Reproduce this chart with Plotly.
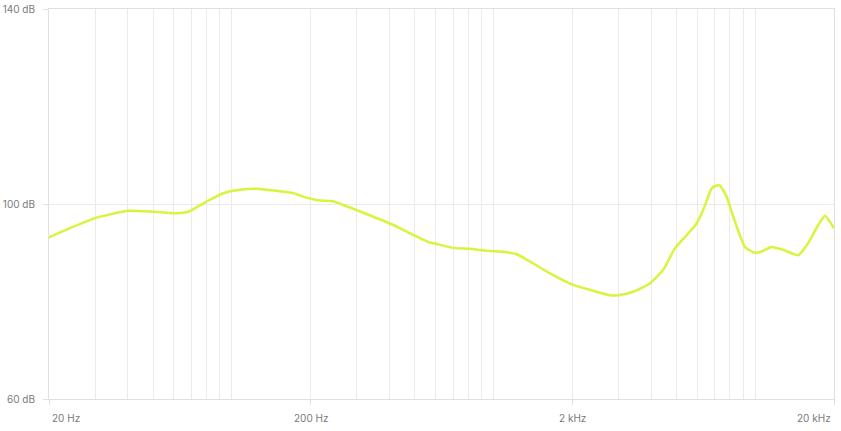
import plotly.graph_objects as go
import math

# Frequency response (Hz, dB)
freq_hz = [19.3, 24.7, 30.4, 40.2, 50.1, 61.5, 68.1, 80.1, 92.7, 107.4, 128, 148.3, 169.3,
           193, 217, 240.7, 266.5, 317.8, 401.8, 479, 571, 606, 701, 813, 941, 1122,
           1225, 1418, 1690, 2016, 2404, 2784, 2996, 3418, 3958, 4450, 4932, 5467,
           5970, 6328, 6814, 7118, 7328, 7772, 8362, 9130, 9822, 10420, 11550, 12790,
           14600, 15940, 17410, 18470, 19860, 20000]
level_db = [92.8, 95.3, 97.2, 98.6, 98.4, 98.1, 98.4, 100.5, 102.2, 102.9, 103.1, 102.7,
            102.3, 101.3, 100.7, 100.6, 99.8, 98.2, 96.0, 94.0, 92.1, 91.8, 91.0, 90.8,
            90.4, 90.1, 89.7, 87.8, 85.4, 83.4, 82.2, 81.3, 81.3, 82.0, 83.7, 86.5, 90.9,
            93.6, 96.0, 98.8, 103.2, 103.8, 103.8, 101.5, 96.4, 91.2, 90.1, 90.1, 91.2,
            90.6, 89.5, 92.0, 95.7, 97.6, 95.3, 95.0]

y_ticks = [60, 100, 140]
y_tick_text = ["60 dB", "100 dB", "140 dB"]
x_label_vals = [20, 200, 2000, 20000]
x_label_text = ["20 Hz", "200 Hz", "2 kHz", "20 kHz"]
x_minor_grid = [30, 40, 50, 60, 70, 80, 90, 100, 300, 400, 500, 600, 700, 800, 900, 1000,
                3000, 4000, 5000, 6000, 7000, 8000, 9000, 10000]

fig = go.Figure()
fig.add_trace(go.Scatter(
    x=freq_hz, y=level_db, mode="lines",
    line=dict(color="#d6f53c", width=2.5, shape="spline", smoothing=0.5),
    hoverinfo="skip", showlegend=False, cliponaxis=False,
))

grid_c = "#ebebeb"
line_c = "#e0e0e0"
font_c = "#7a7a7a"
fam = "Inter, Open Sans, sans-serif"

fig.update_layout(
    width=841, height=431,
    margin=dict(l=49, r=7, t=9, b=32, autoexpand=False),
    paper_bgcolor="white", plot_bgcolor="white",
    font=dict(family=fam, size=10, color=font_c),
    xaxis=dict(
        type="log", automargin=False,
        range=[math.log10(20), math.log10(20000)],
        tickmode="array", tickvals=x_label_vals, ticktext=["", "", "", ""],
        ticks="outside", ticklen=5, tickcolor=line_c,
        showgrid=True, gridcolor=grid_c, gridwidth=1,
        showline=True, linecolor=line_c, linewidth=1, mirror=True,
        zeroline=False,
        minor=dict(tickmode="array", tickvals=x_minor_grid, showgrid=True,
                   gridcolor=grid_c, gridwidth=1, ticks=""),
    ),
    yaxis=dict(
        range=[60, 140], automargin=False,
        tickmode="array", tickvals=y_ticks, ticktext=y_tick_text,
        ticks="outside", ticklen=5, tickcolor=line_c,
        ticklabelstandoff=6,
        showgrid=True, gridcolor=grid_c, gridwidth=1,
        showline=True, linecolor=line_c, linewidth=1, mirror=True,
        zeroline=False,
    ),
)

anchors = ["left", "center", "center", "right"]
for v, t, a in zip(x_label_vals, x_label_text, anchors):
    fig.add_annotation(
        x=math.log10(v), y=0, xref="x", yref="paper",
        text=t, showarrow=False, xanchor=a, yanchor="middle",
        yshift=-19, xshift=1 if a == "left" else (-1 if a == "right" else 0),
        font=dict(family=fam, size=10, color=font_c),
    )

fig.write_html(
    "out.html",
    config={"displayModeBar": False},
    post_script="document.body.style.margin='0';document.body.style.overflow='hidden';",
)
